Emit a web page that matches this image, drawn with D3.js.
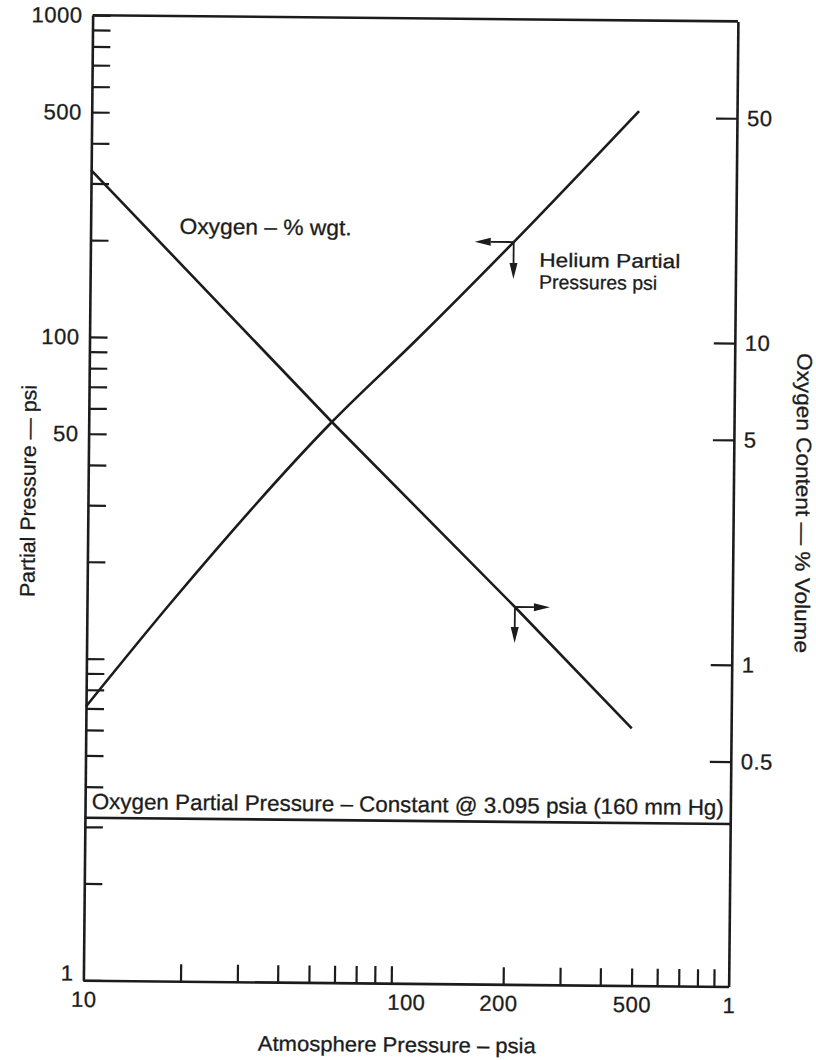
<!DOCTYPE html>
<html>
<head>
<meta charset="utf-8">
<script src="https://cdn.jsdelivr.net/npm/d3@7"></script>
<style>
  body { margin: 0; background: #fff; }
  svg { display: block; }
  text { font-family: "Liberation Sans", Arial, sans-serif; fill: #1c1c1c; }
</style>
</head>
<body>
<div id="chart"></div>
<script>
// values
var xTickValues = [20, 30, 40, 50, 60, 70, 80, 90, 200, 300, 400, 500, 600, 700, 800, 900];
var xLabelValues = [10, 100, 200, 500, 1000];
var xLabelText = ["10", "100", "200", "500", "1"];

var yTickValues = [2, 3, 4, 5, 6, 7, 8, 9, 10, 20, 30, 40, 50, 60, 70, 80, 90, 100,
                   200, 300, 400, 500, 600, 700, 800, 900];
var yLabelValues = [1, 50, 100, 500, 1000];

var rightTickValues = [0.5, 1, 5, 10, 50];

// helium partial pressure (psi) vs atmosphere pressure (psia)
var heliumAtm = [10, 18.5, 56.7, 103, 205, 497];
var heliumPsi = [7.1, 15.3, 55.3, 100, 203, 523];

// oxygen content (% volume) vs atmosphere pressure (psia)
var oxygenAtm = [10, 56.7, 212, 492];
var oxygenPct = [33, 5.53, 1.49, 0.63];

var o2Constant = 3.2;          // psi, flat line
var heliumMark = [205, 203];   // arrow marker on helium line
var oxygenMark = [212, 1.49];  // arrow marker on oxygen line

var svgWidth = 816;
var svgHeight = 1060;

var plot = { left: 88, right: 733.3, top: 18.3, bottom: 983.4 };

var svg = d3.select("#chart")
  .append("svg")
  .attr("width", svgWidth)
  .attr("height", svgHeight);

// the scan sits a little crooked on the page
var chartGroup = svg.append("g")
  .attr("transform", "rotate(0.55, 410.6, 500.8)");

var xScale = d3.scaleLog()
  .domain([10, 1000])
  .range([plot.left, plot.right]);

var yScale = d3.scaleLog()
  .domain([1, 1000])
  .range([plot.bottom, plot.top]);

var yRight = d3.scaleLog()
  .domain([0.1, 100])
  .range([plot.bottom, plot.top]);

var ink = "#1c1c1c";

// left axis
var leftAxis = d3.axisLeft(yScale)
  .tickValues(yTickValues.concat([1, 1000]))
  .tickSizeInner(-18)
  .tickSizeOuter(0)
  .tickPadding(10)
  .tickFormat(d => yLabelValues.indexOf(d) >= 0 ? d : "");

var gLeft = chartGroup.append("g")
  .attr("transform", `translate(${plot.left}, 0)`)
  .call(leftAxis);

// bottom axis
var bottomAxis = d3.axisBottom(xScale)
  .tickValues(xTickValues.concat([10, 100, 1000]))
  .tickSizeInner(-17)
  .tickSizeOuter(0)
  .tickPadding(11)
  .tickFormat(d => {
    var i = xLabelValues.indexOf(d);
    return i >= 0 ? xLabelText[i] : "";
  });

var gBottom = chartGroup.append("g")
  .attr("transform", `translate(0, ${plot.bottom})`)
  .call(bottomAxis);

// no tick mark at 100 (or on the corners)
gBottom.selectAll(".tick")
  .filter(d => xTickValues.indexOf(d) < 0)
  .select("line").remove();

// right axis
var rightAxis = d3.axisRight(yRight)
  .tickValues(rightTickValues)
  .tickSizeInner(-21)
  .tickSizeOuter(0)
  .tickPadding(10)
  .tickFormat(d => String(d));

var gRight = chartGroup.append("g")
  .attr("transform", `translate(${plot.right}, 0)`)
  .call(rightAxis);

// top border
chartGroup.append("line")
  .attr("x1", plot.left).attr("x2", plot.right)
  .attr("y1", yScale(1000)).attr("y2", yScale(1000))
  .attr("stroke", ink)
  .attr("stroke-width", 2.6);

[gLeft, gBottom, gRight].forEach(function (g) {
  g.select(".domain").attr("stroke", ink).attr("stroke-width", 2.6);
  g.selectAll(".tick line").attr("stroke", ink).attr("stroke-width", 2.2);
  g.selectAll(".tick text")
    .attr("fill", ink)
    .attr("stroke", ink)
    .attr("stroke-width", 0.3)
    .style("font-family", "'Liberation Sans', Arial, sans-serif")
    .style("font-size", "22px")
    .style("letter-spacing", "0.5px");
});

// the "1" on the left sits a little above the corner
gLeft.selectAll(".tick text")
  .filter(d => d === 1)
  .attr("dy", "0.32em")
  .attr("y", -7);

gBottom.selectAll(".tick text")
  .filter(d => d === 200)
  .attr("dx", -5);

// data lines
var heliumData = heliumAtm.map((p, i) => [p, heliumPsi[i]]);
var oxygenData = oxygenAtm.map((p, i) => [p, oxygenPct[i]]);

chartGroup.append("path")
  .datum(heliumData)
  .attr("d", d3.line().x(d => xScale(d[0])).y(d => yScale(d[1])).curve(d3.curveMonotoneX))
  .attr("fill", "none")
  .attr("stroke", ink)
  .attr("stroke-width", 2.6);

chartGroup.append("path")
  .datum(oxygenData)
  .attr("d", d3.line().x(d => xScale(d[0])).y(d => yRight(d[1])))
  .attr("fill", "none")
  .attr("stroke", ink)
  .attr("stroke-width", 2.6);

chartGroup.append("line")
  .attr("x1", xScale(10)).attr("x2", xScale(1000))
  .attr("y1", yScale(o2Constant)).attr("y2", yScale(o2Constant))
  .attr("stroke", ink)
  .attr("stroke-width", 2.6);

// arrows pointing at the axes to read
function arrow(x0, y0, dx, dy) {
  var len = Math.sqrt(dx * dx + dy * dy);
  var ux = dx / len, uy = dy / len;
  var head = 16, half = 4;
  var bx = x0 + ux * (len - head), by = y0 + uy * (len - head);
  chartGroup.append("line")
    .attr("x1", x0).attr("y1", y0)
    .attr("x2", bx).attr("y2", by)
    .attr("stroke", ink)
    .attr("stroke-width", 1.8);
  chartGroup.append("path")
    .attr("d", `M${x0 + dx},${y0 + dy}L${bx - uy * half},${by + ux * half}L${bx + uy * half},${by - ux * half}Z`)
    .attr("fill", ink);
}

var hx = xScale(heliumMark[0]), hy = yScale(heliumMark[1]);
arrow(hx, hy, -39, 0);
arrow(hx, hy, 0, 37);

var ox = xScale(oxygenMark[0]), oy = yRight(oxygenMark[1]);
arrow(ox, oy, 35, 0);
arrow(ox, oy, 0, 36);

// annotations
function label(txt, x, y, len, size) {
  return chartGroup.append("text")
    .attr("x", x)
    .attr("y", y)
    .attr("textLength", len)
    .attr("lengthAdjust", "spacingAndGlyphs")
    .attr("stroke", ink)
    .attr("stroke-width", 0.3)
    .style("font-size", size + "px")
    .text(txt);
}

label("Oxygen \u2013 % wgt.", 177, 236, 172, 22);
label("Helium Partial", 537, 265.5, 141, 19.5);
label("Pressures psi", 537, 287.5, 118, 19.5);
label("Oxygen Partial Pressure \u2013 Constant @ 3.095 psia (160 mm Hg)", 94.7, 812, 632, 22);

chartGroup.append("text")
  .attr("x", 402)
  .attr("y", 1052)
  .attr("text-anchor", "middle")
  .attr("textLength", 278)
  .attr("lengthAdjust", "spacingAndGlyphs")
  .attr("stroke", ink)
  .attr("stroke-width", 0.3)
  .style("font-size", "21px")
  .text("Atmosphere Pressure \u2013 psia");

chartGroup.append("text")
  .attr("transform", "translate(35.4, 494.7) rotate(-90)")
  .attr("text-anchor", "middle")
  .attr("textLength", 212)
  .attr("lengthAdjust", "spacingAndGlyphs")
  .attr("stroke", ink)
  .attr("stroke-width", 0.3)
  .style("font-size", "21px")
  .text("Partial Pressure \u2014 psi");

chartGroup.append("text")
  .attr("transform", "translate(796, 499.3) rotate(90)")
  .attr("text-anchor", "middle")
  .attr("textLength", 300)
  .attr("lengthAdjust", "spacingAndGlyphs")
  .attr("stroke", ink)
  .attr("stroke-width", 0.3)
  .style("font-size", "21px")
  .text("Oxygen Content \u2014 % Volume");
</script>
</body>
</html>
